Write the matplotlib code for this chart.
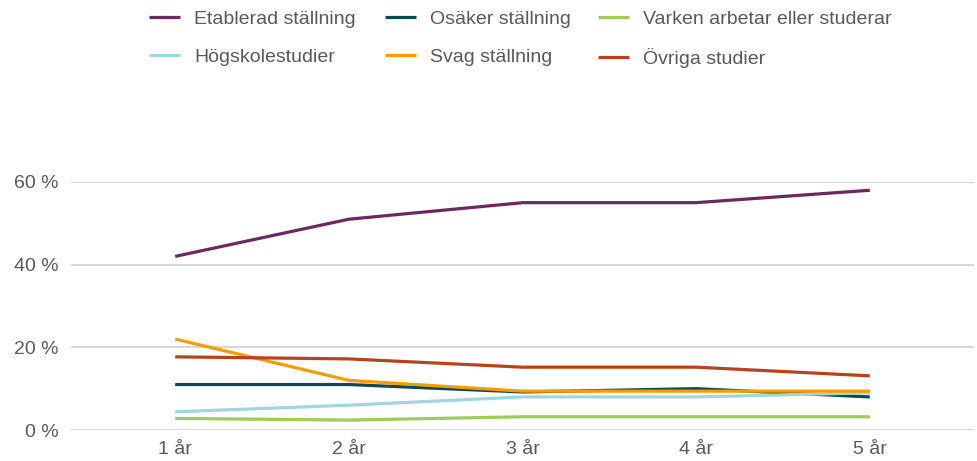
import matplotlib.pyplot as plt

plt.rcParams['font.family'] = ['Liberation Sans', 'DejaVu Sans']

years = ["1 år", "2 år", "3 år", "4 år", "5 år"]
etablerad = [42, 51, 55, 55, 58]
osaker = [11, 11, 9.2, 10, 8]
varken = [2.8, 2.4, 3.2, 3.2, 3.2]
hogskole = [4.4, 6, 8, 8, 9]
svag = [22, 12, 9.4, 9.4, 9.4]
ovriga = [17.7, 17.2, 15.2, 15.2, 13.1]
yticks = [0, 20, 40, 60]

series = [
    ("Etablerad ställning", etablerad, "#6e2860"),
    ("Osäker ställning", osaker, "#0c4a52"),
    ("Varken arbetar eller studerar", varken, "#9dcb5c"),
    ("Högskolestudier", hogskole, "#a0d6df"),
    ("Svag ställning", svag, "#f29d00"),
    ("Övriga studier", ovriga, "#b4441f"),
]

text_color = "#595959"
grid_color = "#d3d3d3"

fig = plt.figure(figsize=(9.77, 4.61), dpi=100)
ax = fig.add_axes([71 / 977, 31 / 461, 903 / 977, 248 / 461])

x = list(range(1, len(years) + 1))
lines = []
for label, vals, color in series:
    ln, = ax.plot(x, vals, color=color, lw=2.3, label=label, clip_on=False,
                  solid_capstyle="butt")
    lines.append(ln)

ax.set_xlim(0.4, 5.6)
ax.set_ylim(0, 60)
ax.set_xticks(x)
ax.set_xticklabels(years)
ax.set_yticks(yticks)
ax.set_yticklabels([f"{v} %" for v in yticks])
ax.tick_params(length=0, labelsize=14, colors=text_color)
ax.tick_params(axis="x", pad=8)
ax.tick_params(axis="y", pad=9)
ax.grid(axis="y", color=grid_color, lw=1.3)
ax.set_axisbelow(True)
for side in ["top", "right", "left", "bottom"]:
    ax.spines[side].set_visible(False)

# legend: three columns, two rows each
col_x = [149, 385, 598]
order = [[0, 3], [1, 4], [2, 5]]
for cx, idx in zip(col_x, order):
    leg = fig.legend([lines[i] for i in idx], [series[i][0] for i in idx],
                     loc="upper left", bbox_to_anchor=(cx / 977, 1 - 10 / 461),
                     frameon=False, fontsize=14, handlelength=1.6,
                     handletextpad=0.72, labelspacing=1.05, borderpad=0,
                     borderaxespad=0)
    for t in leg.get_texts():
        t.set_color(text_color)

fig.savefig("out.png", dpi=100)
